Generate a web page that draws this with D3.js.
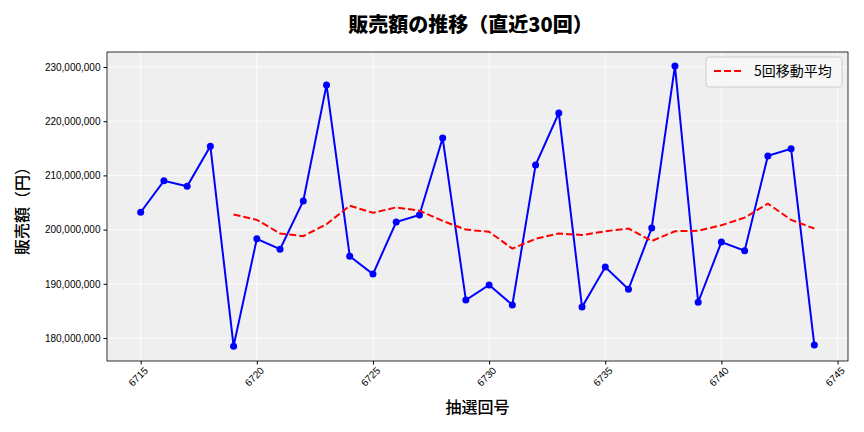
<!DOCTYPE html><html><head><meta charset="utf-8">
<script src="https://cdn.jsdelivr.net/npm/d3@7"></script>
<style>body{margin:0;background:#fff;font-family:"Noto Sans CJK JP","Noto Sans",sans-serif}</style></head><body>
<svg id="c" width="864" height="432"></svg>
<script>
const draws=d3.range(6715,6745);
const sales=[203.2,209.0,208.0,215.4,178.5,198.3,196.4,205.3,226.7,195.1,191.8,201.4,202.7,216.9,187.0,189.8,186.1,211.9,221.5,185.7,193.1,189.0,200.3,230.2,186.6,197.7,196.1,213.6,214.9,178.7];
const maDraws=d3.range(6719,6745);
const ma=[202.8,201.8,199.3,198.8,201.0,204.4,203.1,204.1,203.5,201.6,200.0,199.6,196.5,198.3,199.3,199.0,199.7,200.2,197.9,199.7,199.8,200.8,202.2,204.8,201.8,200.2];
const xTicks=[6715,6720,6725,6730,6735,6740,6745];
const yTicks=[180,190,200,210,220,230];

const svg=d3.select("#c");
const L=107,R=848,T=52,B=361;
const x=d3.scaleLinear().domain([6713.55,6745.45]).range([L,R]);
const y=d3.scaleLinear().domain([175.76,232.77]).range([B,T]);
svg.append("rect").attr("x",L).attr("y",T).attr("width",R-L).attr("height",B-T).attr("fill","#efefef");
const g=svg.append("g");
xTicks.forEach(t=>g.append("line").attr("x1",x(t)).attr("x2",x(t)).attr("y1",T).attr("y2",B).attr("stroke","#fff").attr("stroke-width",0.8));
yTicks.forEach(t=>g.append("line").attr("x1",L).attr("x2",R).attr("y1",y(t)).attr("y2",y(t)).attr("stroke","#fff").attr("stroke-width",0.8));
const xa=svg.append("g").attr("transform",`translate(0,${B})`).call(d3.axisBottom(x).tickValues(xTicks).tickFormat(d3.format("d")).tickSize(3.5).tickSizeOuter(0));
xa.selectAll("text").attr("transform","rotate(-45)").attr("text-anchor","end").attr("dx","-0.2em").attr("dy","0.6em").style("font-size","10px");
const ya=svg.append("g").attr("transform",`translate(${L},0)`).call(d3.axisLeft(y).tickValues(yTicks).tickFormat(d=>d3.format(",")(d*1e6)).tickSize(3.5).tickSizeOuter(0));
ya.selectAll("text").style("font-size","10px");
svg.selectAll(".domain").remove();
svg.append("rect").attr("x",L).attr("y",T).attr("width",R-L).attr("height",B-T).attr("fill","none").attr("stroke","#000").attr("stroke-width",0.8);
svg.append("path").datum(draws.map((d,i)=>[d,sales[i]])).attr("fill","none").attr("stroke","#0000ff").attr("stroke-width",2)
 .attr("d",d3.line().x(d=>x(d[0])).y(d=>y(d[1])));
svg.selectAll("circle").data(draws.map((d,i)=>[d,sales[i]])).join("circle").attr("cx",d=>x(d[0])).attr("cy",d=>y(d[1])).attr("r",3.5).attr("fill","#0000ff");
svg.append("path").datum(maDraws.map((d,i)=>[d,ma[i]])).attr("fill","none").attr("stroke","#ff0000").attr("stroke-width",2).attr("stroke-dasharray","7,3")
 .attr("d",d3.line().x(d=>x(d[0])).y(d=>y(d[1])));
svg.append("text").attr("x",(L+R)/2-7).attr("y",32).attr("text-anchor","middle").style("font-size","20px").style("font-weight","900").text("販売額の推移（直近30回）");
svg.append("text").attr("x",(L+R)/2).attr("y",413).attr("text-anchor","middle").style("font-size","16px").style("font-weight","500").text("抽選回号");
svg.append("text").attr("transform","translate(28,207) rotate(-90)").attr("text-anchor","middle").style("font-size","16px").style("font-weight","500").text("販売額（円）");
const lg=svg.append("g");
lg.append("rect").attr("x",706).attr("y",57).attr("width",136).attr("height",30).attr("rx",3).attr("fill","#f7f7f7").attr("stroke","#ccc");
lg.append("line").attr("x1",714).attr("x2",744).attr("y1",71).attr("y2",71).attr("stroke","#ff0000").attr("stroke-width",2).attr("stroke-dasharray","7,3");
lg.append("text").attr("x",754).attr("y",76).style("font-size","14px").text("5回移動平均");
</script></body></html>
